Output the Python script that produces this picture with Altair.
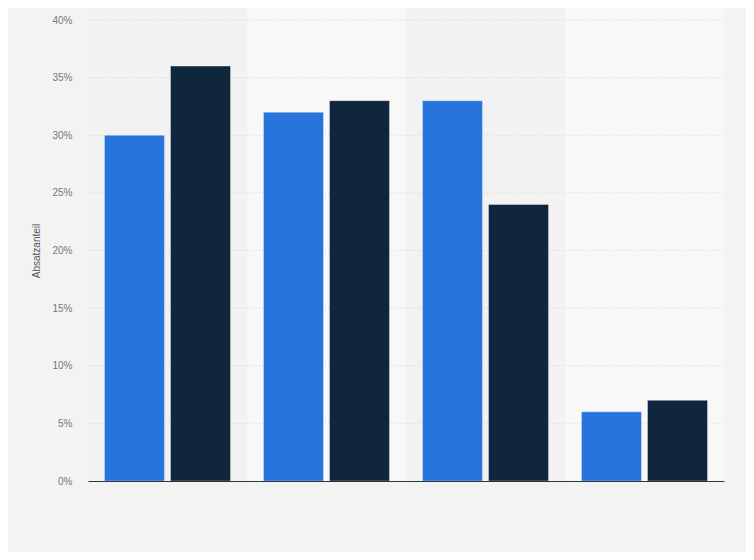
import altair as alt
import pandas as pd

categories = ["Kategorie 1", "Kategorie 2", "Kategorie 3", "Kategorie 4"]
series = ["Serie 1", "Serie 2"]
values_s1 = [30, 32, 33, 6]
values_s2 = [36, 33, 24, 7]
y_ticks = [0, 5, 10, 15, 20, 25, 30, 35, 40]

rows = []
for i, c in enumerate(categories):
    rows.append({"cat": c, "series": series[0], "value": values_s1[i]})
    rows.append({"cat": c, "series": series[1], "value": values_s2[i]})
df = pd.DataFrame(rows)
bands = pd.DataFrame({"cat": categories, "band": [i % 2 for i in range(len(categories))]})
grid = pd.DataFrame({"v": y_ticks[1:]})

xscale = alt.Scale(domain=categories, paddingInner=0, paddingOuter=0)
yscale = alt.Scale(domain=[0, 40], nice=False)

band_layer = alt.Chart(bands).mark_rect().encode(
    x=alt.X("cat:N", scale=xscale, sort=categories,
            axis=alt.Axis(labels=False, ticks=False, title=None, domain=True,
                          domainColor="#333333", domainWidth=1.2, grid=False)),
    y=alt.value(-20),
    y2=alt.value(461),
    color=alt.Color("band:N", scale=alt.Scale(domain=[0, 1], range=["#f2f2f2", "#f8f8f8"]), legend=None),
)

grid_layer = alt.Chart(grid).mark_rule(color="#d6d6d6", strokeDash=[1, 2], strokeWidth=1).encode(
    y=alt.Y("v:Q", scale=yscale),
    x=alt.value(0),
    x2=alt.value(636),
)

bars = alt.Chart(df).mark_bar(stroke="white", strokeWidth=1, strokeOpacity=0.35).encode(
    x=alt.X("cat:N", scale=xscale, sort=categories),
    xOffset=alt.XOffset("series:N", scale=alt.Scale(domain=series, paddingInner=0.0909, paddingOuter=0.25)),
    y=alt.Y("value:Q", scale=yscale,
            axis=alt.Axis(values=y_ticks, labelExpr="datum.value + '%'", title="Absatzanteil",
                          grid=False, domain=False, ticks=False, tickSize=0, labelPadding=16,
                          labelColor="#777777", labelFontSize=10, labelFont="Liberation Sans",
                          titleColor="#555555", titleFontSize=10, titleFontWeight="normal",
                          titleFont="Liberation Sans", titlePadding=10)),
    color=alt.Color("series:N", scale=alt.Scale(domain=series, range=["#2775dc", "#0f263d"]), legend=None),
)

chart = alt.layer(band_layer, grid_layer, bars).resolve_scale(color="independent").properties(
    width=636, height=461,
    autosize=alt.AutoSizeParams(type="none"),
    padding={"left": 80, "top": 12, "right": 22, "bottom": 71},
    background="#f3f3f3",
).configure_view(stroke=None)

chart.save("out.html", embed_options={"renderer": "svg", "actions": False})
